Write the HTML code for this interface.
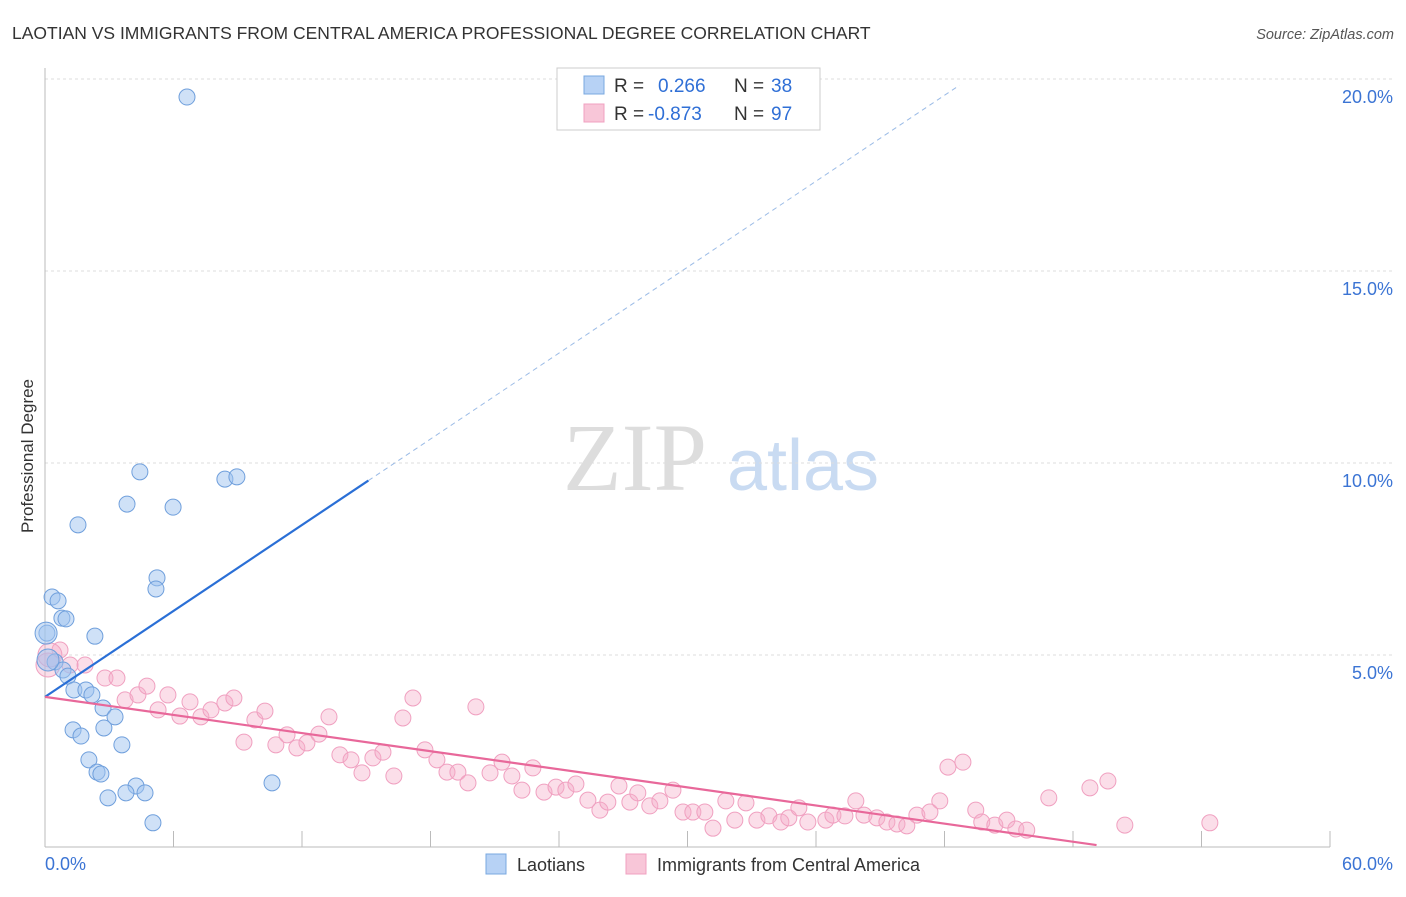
<!DOCTYPE html>
<html><head><meta charset="utf-8"><style>
body{margin:0;background:#fff;font-family:"Liberation Sans",sans-serif;}
svg text{font-family:"Liberation Sans",sans-serif;}
</style></head><body>
<svg id="chart" width="1406" height="892" viewBox="0 0 1406 892">
<text x="12" y="39" font-size="17.5" fill="#333">LAOTIAN VS IMMIGRANTS FROM CENTRAL AMERICA PROFESSIONAL DEGREE CORRELATION CHART</text>
<text x="1394" y="39" font-size="14.5" fill="#555" font-style="italic" text-anchor="end">Source: ZipAtlas.com</text>
<g>
<text x="635" y="490" font-size="96" fill="#ddd" text-anchor="middle" font-family="Liberation Serif" style="font-family:'Liberation Serif',serif">ZIP</text>
<text x="803" y="490" font-size="72" fill="#c9dbf2" text-anchor="middle">atlas</text>
</g>
<g id="grid"></g>
<g id="axes"></g>
<g id="points"></g>
<g id="lines"></g>
<text transform="translate(33,456) rotate(-90)" font-size="17" fill="#333" text-anchor="middle">Professional Degree</text>
<g>
<rect x="557" y="68" width="263" height="62" fill="#fff" stroke="#ccc"/>
<rect x="584" y="76" width="20" height="18" fill="#b7d2f5" stroke="#7aa8e0"/>
<rect x="584" y="104" width="20" height="18" fill="#f8c6d8" stroke="#f0a0c0"/>
<text x="614" y="92" font-size="19" fill="#333">R = </text><text x="658" y="92" font-size="19" fill="#2f6fd6">0.266</text>
<text x="734" y="92" font-size="19" fill="#333">N = </text><text x="771" y="92" font-size="19" fill="#2f6fd6">38</text>
<text x="614" y="120" font-size="19" fill="#333">R = </text><text x="648" y="120" font-size="19" fill="#2f6fd6">-0.873</text>
<text x="734" y="120" font-size="19" fill="#333">N = </text><text x="771" y="120" font-size="19" fill="#2f6fd6">97</text>
</g>
<g>
<rect x="486" y="854" width="20" height="20" fill="#b7d2f5" stroke="#7aa8e0"/>
<text x="517" y="871" font-size="18" fill="#333">Laotians</text>
<rect x="626" y="854" width="20" height="20" fill="#f8c6d8" stroke="#f0a0c0"/>
<text x="657" y="871" font-size="18" fill="#333">Immigrants from Central America</text>
</g>
</svg>
<script>
const xTickLabels=["0.0%","60.0%"];
const yTicks=[5,10,15,20];
const yTickLabels=["5.0%","10.0%","15.0%","20.0%"];
const blueX=[6.63,4.43,8.40,8.96,3.83,5.98,1.54,5.23,5.18,0.33,0.61,0.79,0.98,0.09,2.33,0.47,0.84,1.07,1.35,1.91,2.19,2.71,3.27,2.75,1.31,1.68,3.59,2.05,2.43,2.61,4.25,3.78,4.67,2.94,10.60,5.04,0.14,0.05];
const blueY=[19.53,9.77,9.58,9.64,8.93,8.85,8.39,7.01,6.72,6.51,6.41,5.96,5.94,5.57,5.49,4.82,4.61,4.45,4.09,4.09,3.96,3.62,3.39,3.10,3.05,2.89,2.66,2.27,1.95,1.90,1.59,1.41,1.41,1.28,1.67,0.63,4.87,5.57];
const pinkX=[0.70,1.17,1.87,2.80,3.36,3.74,4.34,4.76,5.28,5.74,6.30,6.77,7.28,7.75,8.40,8.82,9.29,9.80,10.27,10.78,11.30,11.76,12.23,12.79,13.26,13.77,14.29,14.80,15.31,15.78,16.29,16.71,17.18,17.74,18.30,18.77,19.28,19.75,20.12,20.78,21.34,21.80,22.27,22.78,23.30,23.86,24.32,24.79,25.35,25.91,26.28,26.80,27.31,27.68,28.24,28.71,29.32,29.79,30.25,30.81,31.19,31.79,32.21,32.73,33.24,33.80,34.36,34.73,35.20,35.62,36.46,36.79,37.35,37.86,38.24,38.84,39.31,39.78,40.24,40.71,41.32,41.78,42.16,42.86,43.46,43.74,44.35,44.91,45.33,45.84,46.87,48.79,49.63,50.42,54.39,0.14,0.23];
const pinkY=[5.13,4.74,4.74,4.40,4.40,3.83,3.96,4.19,3.57,3.96,3.41,3.78,3.39,3.57,3.75,3.88,2.73,3.31,3.54,2.66,2.92,2.58,2.71,2.94,3.39,2.40,2.27,1.93,2.32,2.47,1.85,3.36,3.88,2.53,2.27,1.95,1.95,1.67,3.65,1.93,2.21,1.85,1.48,2.06,1.43,1.56,1.48,1.64,1.22,0.96,1.17,1.59,1.17,1.41,1.07,1.20,1.48,0.91,0.91,0.91,0.49,1.20,0.70,1.15,0.70,0.81,0.65,0.76,1.02,0.65,0.70,0.83,0.81,1.20,0.83,0.76,0.65,0.60,0.55,0.83,0.91,1.20,2.08,2.21,0.96,0.65,0.57,0.70,0.47,0.44,1.28,1.54,1.72,0.57,0.63,4.74,5.00];
const blueLine={x0:0,y0:3.91,slope:0.373,solidEnd:15.1,dashEnd:42.7};
const pinkLine={x0:0,y0:3.91,slope:-0.0786,end:49.1};
const NS="http://www.w3.org/2000/svg";
const X=v=>45+v*(1330-45)/60;
const Y=v=>847-v*38.4;
function mk(tag,attrs,parent){const e=document.createElementNS(NS,tag);for(const k in attrs)e.setAttribute(k,attrs[k]);document.getElementById(parent).appendChild(e);return e;}
yTicks.forEach((t,i)=>{
 const g=mk('line',{x1:45,x2:1393,y1:Y(t),y2:Y(t),stroke:'#ddd','stroke-dasharray':'3,3'},'grid');
 
 
 const l=mk('text',{x:1393,y:Y(t)+24,'font-size':18,fill:'#3b74d4','text-anchor':'end'},'axes');
 l.textContent=yTickLabels[i];
 
 
});
const ax=mk('line',{x1:45,x2:45,y1:68,y2:847,stroke:'#bbb'},'axes');


const bx=mk('line',{x1:45,x2:1330,y1:847,y2:847,stroke:'#bbb'},'axes');


for(let i=0;i<=10;i++){const t=mk('line',{x1:X(i*6),x2:X(i*6),y1:847,y2:831,stroke:'#bbb'},'axes');
 
 }
const xl0=mk('text',{x:45,y:870,'font-size':18,fill:'#3b74d4'},'axes');xl0.textContent=xTickLabels[0];


const xl1=mk('text',{x:1393,y:870,'font-size':18,fill:'#3b74d4','text-anchor':'end'},'axes');xl1.textContent=xTickLabels[1];


pinkX.forEach((v,i)=>{const c=mk('circle',{cx:X(v),cy:Y(pinkY[i]),r:i>=pinkX.length-2?12:8,fill:'rgba(246,172,200,0.4)',stroke:'#f0a0c0','stroke-width':1},'points');
 
 });
blueX.forEach((v,i)=>{const c=mk('circle',{cx:X(v),cy:Y(blueY[i]),r:i>=blueX.length-2?11:8,fill:'rgba(160,196,240,0.5)',stroke:'#6f9fdc','stroke-width':1},'points');
 
 });
const b1=mk('line',{x1:X(blueLine.x0),y1:Y(blueLine.y0),x2:X(blueLine.solidEnd),y2:Y(blueLine.y0+blueLine.slope*blueLine.solidEnd),stroke:'#2a6fd6','stroke-width':2.2},'lines');


const b2=mk('line',{x1:X(blueLine.solidEnd),y1:Y(blueLine.y0+blueLine.slope*blueLine.solidEnd),x2:X(blueLine.dashEnd),y2:Y(blueLine.y0+blueLine.slope*blueLine.dashEnd),stroke:'#9bbbe6','stroke-width':1,'stroke-dasharray':'5,4'},'lines');


const p1=mk('line',{x1:X(pinkLine.x0),y1:Y(pinkLine.y0),x2:X(pinkLine.end),y2:Y(pinkLine.y0+pinkLine.slope*pinkLine.end),stroke:'#e8689a','stroke-width':2.2},'lines');


</script>
</body></html>
